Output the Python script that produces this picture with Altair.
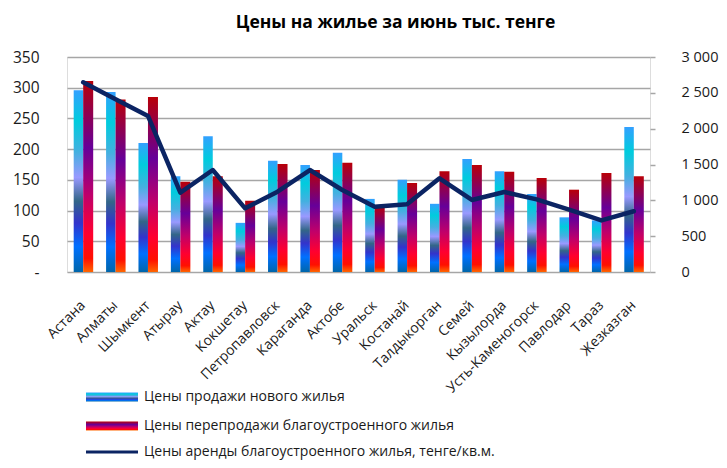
import altair as alt
import pandas as pd

cities = ["Астана", "Алматы", "Шымкент", "Атырау", "Актау", "Кокшетау",
          "Петропавловск", "Караганда", "Актобе", "Уральск", "Костанай",
          "Талдыкорган", "Семей", "Кызылорда", "Усть-Каменогорск",
          "Павлодар", "Тараз", "Жезказган"]
new_sale = [296, 293, 210, 156, 221, 80, 181, 174, 194, 119, 150, 111, 184,
            164, 127, 89, 84, 236]
resale = [311, 281, 285, 147, 156, 116, 176, 166, 178, 107, 145, 164, 174,
          163, 153, 134, 161, 156]
rent = [2647, 2410, 2177, 1107, 1423, 888, 1121, 1423, 1144, 912, 945, 1307,
        1005, 1116, 1014, 870, 720, 848]
series_names = ["Цены продажи нового жилья",
                "Цены перепродажи благоустроенного жилья",
                "Цены аренды благоустроенного жилья, тенге/кв.м."]
title_text = "Цены на жилье за июнь тыс. тенге"
left_ticks = [0, 50, 100, 150, 200, 250, 300, 350]
right_ticks = [0, 500, 1000, 1500, 2000, 2500, 3000]

FONT = "Open Sans"
GRID = "#a6a6a6"
LINE = "#0b2463"

df = pd.DataFrame({"city": cities, "new": new_sale, "resale": resale, "rent": rent})

blue_grad = alt.Gradient(
    gradient="linear", x1=0, x2=0, y1=0, y2=1,
    stops=[alt.GradientStop(offset=0.0, color="#33a0ff"),
           alt.GradientStop(offset=0.17, color="#00ccdd"),
           alt.GradientStop(offset=0.34, color="#44b0e0"),
           alt.GradientStop(offset=0.48, color="#9999ff"),
           alt.GradientStop(offset=0.61, color="#336688"),
           alt.GradientStop(offset=0.73, color="#3333cc"),
           alt.GradientStop(offset=0.86, color="#0070ff"),
           alt.GradientStop(offset=1.0, color="#0066aa")])
red_grad = alt.Gradient(
    gradient="linear", x1=0, x2=0, y1=0, y2=1,
    stops=[alt.GradientStop(offset=0.0, color="#b80008"),
           alt.GradientStop(offset=0.35, color="#660099"),
           alt.GradientStop(offset=0.6, color="#c0006a"),
           alt.GradientStop(offset=0.8, color="#ff0030"),
           alt.GradientStop(offset=0.93, color="#ff1000"),
           alt.GradientStop(offset=1.0, color="#ff6600")])

x_enc = alt.X("city:N", sort=cities,
              scale=alt.Scale(paddingInner=0.38, paddingOuter=0.19),
              axis=alt.Axis(title=None, labelAngle=315, labelAlign="right",
                            labelBaseline="middle", labelPadding=31,
                            ticks=False, domain=False, labelFontSize=14,
                            labelFont=FONT, labelColor="#1a1a1a",
                            labelOverlap=False, labelLimit=0))

left_axis = alt.Axis(title=None, values=left_ticks, grid=True, gridColor=GRID,
                     gridWidth=1.5, ticks=False, domain=False, labelPadding=28,
                     labelFontSize=15.5, labelFont=FONT, labelColor="#1a1a1a",
                     labelExpr="datum.value == 0 ? '-\u2009' : datum.label")
left_scale = alt.Scale(domain=[0, 350], nice=False)

bars_new = alt.Chart(df).mark_bar(width=9.5, xOffset=-4.75, color=blue_grad).encode(
    x=x_enc, y=alt.Y("new:Q", scale=left_scale, axis=left_axis))
bars_re = alt.Chart(df).mark_bar(width=10, xOffset=5, color=red_grad).encode(
    x=x_enc, y=alt.Y("resale:Q", scale=left_scale, axis=left_axis))
bars = alt.layer(bars_new, bars_re)

line = alt.Chart(df).mark_line(color=LINE, strokeWidth=4.5, strokeJoin="round",
                               strokeCap="round").encode(
    x=x_enc,
    y=alt.Y("rent:Q", scale=alt.Scale(domain=[0, 3000], nice=False),
            axis=alt.Axis(title=None, orient="right", values=right_ticks,
                          grid=False, tickSize=5, tickColor=GRID, tickWidth=1.5,
                          domain=False, labelPadding=26, labelFontSize=14.5,
                          labelFont=FONT, labelColor="#1a1a1a", labelAlign="left",
                          labelExpr="replace(format(datum.value, ','), ',', ' ')")))

main = alt.layer(bars, line).resolve_scale(y="independent")

leg = pd.DataFrame({"label": series_names})
leg_items = []
sw_x, sw_x2, txt_x = 19, 71, 77
rows_y = [340, 369, 395]
for i, grad in enumerate([blue_grad, red_grad]):
    d = leg.iloc[[i]]
    leg_items.append(alt.Chart(d).mark_rect(color=grad).encode(
        x=alt.value(sw_x), x2=alt.value(sw_x2),
        y=alt.value(rows_y[i] - 4.5), y2=alt.value(rows_y[i] + 4.5)))
leg_items.append(alt.Chart(leg.iloc[[2]]).mark_rule(color=LINE, strokeWidth=3).encode(
    x=alt.value(sw_x), x2=alt.value(sw_x2), y=alt.value(rows_y[2])))
for i in range(3):
    leg_items.append(alt.Chart(leg.iloc[[i]]).mark_text(
        align="left", baseline="middle", font=FONT, fontSize=14,
        color="#1a1a1a").encode(
        x=alt.value(txt_x), y=alt.value(rows_y[i]), text="label:N"))

chart = alt.layer(main, *leg_items).properties(
    width=583, height=215,
    title=alt.TitleParams(text=title_text, font=FONT, fontSize=17.5,
                          fontWeight="bold", color="#000000", anchor="middle",
                          dx=37, dy=-14),
    autosize=alt.AutoSizeParams(type="none"),
    padding={"left": 59, "top": 49, "right": 69, "bottom": 188},
).configure_view(stroke=GRID, strokeWidth=1.5).configure(font=FONT)

chart.save("out.html", embed_options={"renderer": "svg", "actions": False})
